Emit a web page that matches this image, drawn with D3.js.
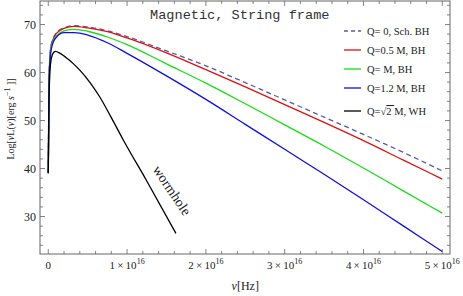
<!DOCTYPE html>
<html>
<head>
<meta charset="utf-8">
<script src="https://cdn.jsdelivr.net/npm/d3@7"></script>
<style>
  body { margin: 0; background: #fff; }
  svg text { font-family: "Liberation Serif", "Times New Roman", serif; fill: #222; }
</style>
</head>
<body>
<div id="chart"></div>
<script>
// frequency grid (units of 1e16 Hz) shared by the black hole curves
const nuGrid = [0, 0.01, 0.03, 0.06, 0.1, 0.2, 0.33, 0.5, 0.75, 1, 1.5, 2, 2.5, 3, 3.5, 4, 4.5, 5];
const schBH   = [39, 59, 65, 67, 68.2, 69.3, 69.75, 69.5, 68.7, 67.5, 64.5, 61.4, 57.9, 54.3, 50.7, 47.1, 43.4, 39.5];
const q05BH   = [39, 59, 65, 66.9, 68.1, 69.2, 69.6, 69.3, 68.5, 67.2, 64.1, 60.6, 57.0, 53.3, 49.6, 45.8, 41.8, 37.8];
const q1BH    = [39, 58.5, 64.5, 66.5, 67.6, 68.7, 69.0, 68.6, 67.4, 65.8, 61.8, 57.8, 53.5, 49.1, 44.7, 40.1, 35.4, 30.7];
const q12BH   = [39, 58, 64, 66.2, 67.3, 68.3, 68.3, 67.8, 66.2, 64.0, 59.3, 54.4, 49.2, 44.0, 38.8, 33.5, 28.1, 22.7];
// wormhole curve has its own grid
const nuWH    = [0, 0.01, 0.03, 0.06, 0.09, 0.15, 0.25, 0.32, 0.4, 0.53, 0.65, 0.8, 0.95, 1.25, 1.62];
const wormhole = [39.1, 55, 62, 64, 64.4, 64.0, 62.8, 61.8, 60.5, 57.9, 55.0, 50.6, 46.0, 37.4, 26.5];

const xTicks = [0, 1, 2, 3, 4, 5];
const yTicks = [30, 40, 50, 60, 70];
const legendLabels = ["Q= 0, Sch. BH", "Q=0.5 M, BH", "Q= M, BH", "Q=1.2 M, BH", "Q=\u221A2 M, WH"];

const W = 463, H = 296;
const plot = { left: 40, right: 450, top: 1, bottom: 254 };

const svg = d3.select("#chart").append("svg")
    .attr("width", W)
    .attr("height", H);

const x = d3.scaleLinear().domain([-0.105, 5.098]).range([plot.left, plot.right]);
const y = d3.scaleLinear().domain([22.19, 74.9]).range([plot.bottom, plot.top]);

// frame
svg.append("rect")
    .attr("x", plot.left).attr("y", plot.top)
    .attr("width", plot.right - plot.left)
    .attr("height", plot.bottom - plot.top)
    .attr("fill", "none")
    .attr("stroke", "#666")
    .attr("stroke-width", 1);

// ticks on all four sides, pointing inward
const xMinor = d3.range(0, 5.01, 0.2);
const yMinor = d3.range(24, 74.1, 2);
const tickG = svg.append("g").attr("stroke", "#666").attr("stroke-width", 0.8);

xMinor.forEach(v => {
    const major = xTicks.some(t => Math.abs(t - v) < 1e-6);
    const len = major ? 5 : 3;
    tickG.append("line").attr("x1", x(v)).attr("x2", x(v))
        .attr("y1", plot.bottom).attr("y2", plot.bottom - len);
    tickG.append("line").attr("x1", x(v)).attr("x2", x(v))
        .attr("y1", plot.top).attr("y2", plot.top + len);
});
yMinor.forEach(v => {
    const major = yTicks.includes(Math.round(v)) && Math.abs(v % 10) < 1e-6;
    const len = major ? 5 : 3;
    tickG.append("line").attr("y1", y(v)).attr("y2", y(v))
        .attr("x1", plot.left).attr("x2", plot.left + len);
    tickG.append("line").attr("y1", y(v)).attr("y2", y(v))
        .attr("x1", plot.right).attr("x2", plot.right - len);
});

// tick labels
yTicks.forEach(t => {
    svg.append("text")
        .attr("x", plot.left - 4).attr("y", y(t) + 4)
        .attr("text-anchor", "end")
        .style("font-size", "12px")
        .text(t);
});
xTicks.forEach(t => {
    const lbl = svg.append("text")
        .attr("x", x(t)).attr("y", 269)
        .attr("text-anchor", "middle")
        .style("font-size", "11px");
    if (t === 0) {
        lbl.text("0");
    } else {
        lbl.append("tspan").text(t + "\u2009\u00D7\u200910");
        lbl.append("tspan").attr("dy", -5).style("font-size", "8px").text("16");
    }
});

// axis titles
svg.append("text")
    .attr("x", x(2.5)).attr("y", 290)
    .attr("text-anchor", "middle")
    .style("font-size", "12px")
    .html('<tspan font-style="italic">\u03BD</tspan>[Hz]');

const yl = svg.append("text")
    .attr("transform", "translate(14,119) rotate(-90)")
    .attr("text-anchor", "middle")
    .style("font-size", "10px");
yl.append("tspan").text("Log[");
yl.append("tspan").style("font-style", "italic").text("\u03BD");
yl.append("tspan").text("L(");
yl.append("tspan").style("font-style", "italic").text("\u03BD");
yl.append("tspan").text(")[erg ");
yl.append("tspan").style("font-style", "italic").text("s");
yl.append("tspan").attr("dy", -4).style("font-size", "8px").text("\u22121");
yl.append("tspan").attr("dy", 4).text(" ]]");

// curves
const series = [
    { vals: schBH, nu: nuGrid, color: "#5a5aa8", dash: "5,3.5" },
    { vals: q05BH, nu: nuGrid, color: "#e01010", dash: null },
    { vals: q1BH, nu: nuGrid, color: "#18dd18", dash: null },
    { vals: q12BH, nu: nuGrid, color: "#1010dd", dash: null },
    { vals: wormhole, nu: nuWH, color: "#000000", dash: null }
];

const line = d3.line()
    .x(d => x(d[0]))
    .y(d => y(d[1]))
    .curve(d3.curveMonotoneX);

series.forEach(s => {
    svg.append("path")
        .datum(s.nu.map((n, i) => [n, s.vals[i]]))
        .attr("d", line)
        .attr("fill", "none")
        .attr("stroke", s.color)
        .attr("stroke-width", 1.3)
        .attr("stroke-dasharray", s.dash);
});

// wormhole label along the black curve
svg.append("text")
    .attr("transform", "translate(168,193) rotate(56)")
    .attr("text-anchor", "middle")
    .style("font-size", "14px")
    .text("wormhole");

// frame title
svg.append("text")
    .attr("x", 150).attr("y", 19)
    .style("font-family", "'Liberation Mono', 'Courier New', monospace")
    .style("font-size", "13.6px")
    .style("fill", "#333")
    .text("Magnetic, String frame");

// legend
const legend = svg.append("g");
legendLabels.forEach((label, i) => {
    const ly = [31, 50, 69, 88, 111][i];
    const s = series[i];
    legend.append("line")
        .attr("x1", 344).attr("x2", 361)
        .attr("y1", ly).attr("y2", ly)
        .attr("stroke", s.color)
        .attr("stroke-width", 1.3)
        .attr("stroke-dasharray", s.dash ? "4,3" : null);
    const t = legend.append("text")
        .attr("x", 367).attr("y", ly + 4)
        .style("font-size", "10.5px");
    if (i === 4) {
        t.append("tspan").text("Q=\u221A");
        t.append("tspan").style("text-decoration", "overline").text("2 ");
        t.append("tspan").text(" M, WH");
    } else {
        t.text(label);
    }
});
</script>
</body>
</html>
